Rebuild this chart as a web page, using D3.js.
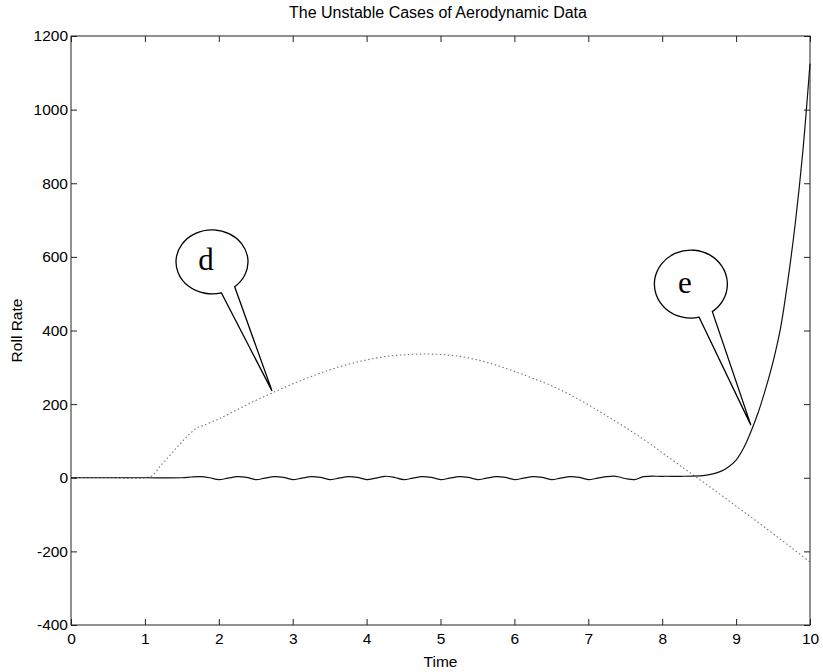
<!DOCTYPE html>
<html>
<head>
<meta charset="utf-8">
<script src="https://cdn.jsdelivr.net/npm/d3@7"></script>
<style>
  html, body { margin: 0; padding: 0; background: #fff; }
  svg { display: block; }
  text { font-family: "Liberation Sans", Arial, Helvetica, sans-serif; fill: #000; }
</style>
</head>
<body>
<svg id="chart" width="823" height="672"></svg>
<script>
// Roll rate history, case "d" (dotted, slow oscillation)
const dTime = [0, 0.5, 1.0, 1.1, 1.2, 1.3, 1.4, 1.5, 1.6, 1.7, 1.8, 2.0, 2.25, 2.5, 2.75, 3.0, 3.25, 3.5, 3.75, 4.0,
               4.25, 4.5, 4.75, 5.0, 5.25, 5.5, 5.75, 6.0, 6.25, 6.5, 6.75, 7.0, 7.25, 7.5, 7.75, 8.0, 8.25, 8.5,
               8.75, 9.0, 9.25, 9.5, 9.75, 10];
const dRoll = [0, 0, 0, 6, 30, 52, 75, 97, 118, 135, 143, 160, 185, 210, 233, 255, 275, 293, 308, 320,
               329, 334, 336, 335, 330, 320, 306, 289, 270, 250, 226, 198, 168, 137, 104, 68, 32, -4,
               -40, -77, -114, -152, -190, -229];

// Roll rate history, case "e" (small wiggle, then divergence)
const eTime = [0, 0.5, 1.0, 1.5, 1.625, 1.75, 1.875, 2.0, 2.125, 2.25, 2.375, 2.5, 2.625, 2.75, 2.875, 3.0,
               3.125, 3.25, 3.375, 3.5, 3.625, 3.75, 3.875, 4.0, 4.125, 4.25, 4.375, 4.5, 4.625, 4.75, 4.875, 5.0,
               5.125, 5.25, 5.375, 5.5, 5.625, 5.75, 5.875, 6.0, 6.125, 6.25, 6.375, 6.5, 6.625, 6.75, 6.875, 7.0,
               7.125, 7.25, 7.375, 7.5, 7.625, 7.75, 8.0, 8.25, 8.5, 8.6, 8.7, 8.8, 8.9, 9.0, 9.1, 9.2, 9.3,
               9.4, 9.5, 9.6, 9.7, 9.8, 9.9, 10];
const eRoll = [0, 0, 0, 0, 2, 3, 0, -5, -1, 3, 1, -5, -1, 3, 1, -5,
               -1, 3, 1, -5, -1, 3, 1, -5, -1, 4, 1, -5, -1, 3, 1, -5,
               -1, 3, 1, -5, -1, 3, 1, -5, -1, 3, 1, -5, -1, 3, 1, -5,
               -1, 3, 4, -2, -5, 3, 4, 4, 5, 7, 11, 18, 30, 48, 80, 125, 178,
               242, 315, 405, 535, 690, 880, 1125];

// Axis ticks
const xTicks = [0, 1, 2, 3, 4, 5, 6, 7, 8, 9, 10];
const yTicks = [-400, -200, 0, 200, 400, 600, 800, 1000, 1200];

// Callout balloons: label, time and roll rate of the point they mark
const calloutLabel = ["d", "e"];
const calloutTime = [2.72, 9.2];
const calloutRoll = [236, 143];

const svg = d3.select("#chart");
const plotL = 71, plotR = 810, plotT = 36, plotB = 625;

const x = d3.scaleLinear().domain([0, 10]).range([plotL, plotR]);
const y = d3.scaleLinear().domain([-400, 1200]).range([plotB, plotT]);

const tickLen = 6;
const axisColor = "#222";
const labelFont = "15.5px";
const plainNum = d => String(d);   // hyphen-minus, as in the plotting package

// Bottom axis with labels, ticks pointing inward
const gx = svg.append("g").attr("transform", `translate(0,${plotB})`)
  .call(d3.axisBottom(x).tickValues(xTicks).tickSizeInner(-tickLen).tickSizeOuter(0).tickPadding(8)
        .tickFormat(plainNum));
// Top axis, ticks only
const gxt = svg.append("g").attr("transform", `translate(0,${plotT})`)
  .call(d3.axisTop(x).tickValues(xTicks).tickSizeInner(-tickLen).tickSizeOuter(0).tickFormat(""));
// Left axis with labels
const gy = svg.append("g").attr("transform", `translate(${plotL},0)`)
  .call(d3.axisLeft(y).tickValues(yTicks).tickSizeInner(-tickLen).tickSizeOuter(0).tickPadding(3)
        .tickFormat(plainNum));
// Right axis, ticks only
const gyr = svg.append("g").attr("transform", `translate(${plotR},0)`)
  .call(d3.axisRight(y).tickValues(yTicks).tickSizeInner(-tickLen).tickSizeOuter(0).tickFormat(""));

[gx, gxt, gy, gyr].forEach(g => {
  g.select(".domain").remove();
  g.selectAll(".tick line").attr("stroke", axisColor).attr("stroke-width", 1);
  g.selectAll(".tick text").style("font-family", "'Liberation Sans', Arial, sans-serif")
    .style("font-size", labelFont).attr("fill", "#000");
});

// Plot frame
svg.append("rect")
  .attr("x", plotL).attr("y", plotT)
  .attr("width", plotR - plotL).attr("height", plotB - plotT)
  .attr("fill", "none").attr("stroke", axisColor).attr("stroke-width", 1);

// Series lines
const line = (tArr, vArr) => d3.line()
  .x((d, i) => x(tArr[i])).y((d, i) => y(vArr[i]))
  .curve(d3.curveCatmullRom.alpha(0.5))(tArr);

svg.append("path")
  .attr("d", line(dTime, dRoll))
  .attr("fill", "none").attr("stroke", "#777").attr("stroke-width", 1.1)
  .attr("stroke-dasharray", "1.5,2.5");

svg.append("path")
  .attr("d", line(eTime, eRoll))
  .attr("fill", "none").attr("stroke", "#111").attr("stroke-width", 1.2);

// Callout balloons
const balloon = [
  { cx: -60, cy: -129, rx: 36, ry: 32, a1: 75, a2: 51 },
  { cx: -60, cy: -141, rx: 36.5, ry: 34, a1: 77, a2: 54 }
];
calloutLabel.forEach((lab, i) => {
  const tipX = x(calloutTime[i]), tipY = y(calloutRoll[i]);
  const b = balloon[i];
  const cx = tipX + b.cx, cy = tipY + b.cy;
  const rad = a => a * Math.PI / 180;
  const p1 = [cx + b.rx * Math.cos(rad(b.a1)), cy + b.ry * Math.sin(rad(b.a1))];
  const p2 = [cx + b.rx * Math.cos(rad(b.a2)), cy + b.ry * Math.sin(rad(b.a2))];
  const d = `M${p1[0]},${p1[1]} L${tipX},${tipY} L${p2[0]},${p2[1]} ` +
            `A${b.rx},${b.ry} 0 1 0 ${p1[0]},${p1[1]} Z`;
  svg.append("path").attr("d", d)
    .attr("fill", "#fff").attr("stroke", "#000").attr("stroke-width", 1.3)
    .attr("stroke-linejoin", "miter");
  svg.append("text")
    .attr("x", cx - 6).attr("y", cy - 2)
    .attr("text-anchor", "middle").attr("dominant-baseline", "central")
    .style("font-family", "'Liberation Serif', 'Times New Roman', serif")
    .style("font-size", "31px")
    .text(lab);
});

// Title and axis labels
svg.append("text").attr("x", 438).attr("y", 18)
  .attr("text-anchor", "middle").style("font-size", "16px")
  .text("The Unstable Cases of Aerodynamic Data");
svg.append("text").attr("x", (plotL + plotR) / 2).attr("y", 667)
  .attr("text-anchor", "middle").style("font-size", labelFont)
  .text("Time");
svg.append("text")
  .attr("transform", `translate(22,${(plotT + plotB) / 2}) rotate(-90)`)
  .attr("text-anchor", "middle").style("font-size", labelFont)
  .text("Roll Rate");
</script>
</body>
</html>
